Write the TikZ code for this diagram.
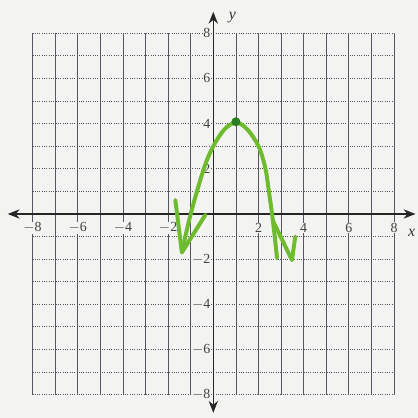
\documentclass[tikz,border=0pt]{standalone}
\usepackage{fontspec}
\setmainfont{Liberation Serif}
\usetikzlibrary{arrows.meta}
\definecolor{penc}{RGB}{110,188,45}
\definecolor{pendark}{RGB}{45,125,35}
\definecolor{paper}{RGB}{243,243,241}
\definecolor{gridc}{RGB}{85,85,98}
\begin{document}
\begin{tikzpicture}[x=0.6cm,y=0.6cm,
  ticklab/.style={fill=paper, inner sep=0.6pt, font=\fontsize{10.5}{12}\selectfont, text=black!75},
  axislab/.style={font=\itshape\fontsize{12}{14}\selectfont, text=black!80},
  penline/.style={draw=penc, line width=3pt, line cap=round, line join=round},
  axisline/.style={draw=black!85, line width=1.1pt, {Stealth[length=9pt,width=7pt]}-{Stealth[length=9pt,width=7pt]}}]
\fill[paper] (-9.44,-9.03) rectangle (9.06,9.47);
\useasboundingbox (-9.44,-9.03) rectangle (9.06,9.47);
% grid
\foreach \i in {-8,...,8}{
  \draw[gridc, line width=0.55pt] (\i,-8) -- (\i,8);
  \draw[gridc, line width=0.75pt, densely dotted] (-8,\i) -- (8,\i);
}
% axes
\coordinate (xl) at (-9.1,0);
\coordinate (xr) at (8.95,0);
\coordinate (yb) at (0,-8.8);
\coordinate (yt) at (0,8.95);
\draw[axisline] (xl) -- (xr);
\draw[axisline] (yb) -- (yt);
% tick labels
\foreach \v/\t in {-8/$-$8,-6/$-$6,-4/$-$4,-2/$-$2,2/2,4/4,6/6,8/8}{
  \node[ticklab] (xt\v) at (\v,-0.62) {\t};
  \node[ticklab, anchor=east] (yt\v) at (-0.08,\v) {\t};
}
\node[axislab] (xlab) at (8.78,-0.85) {x};
\node[axislab] (ylab) at (0.85,8.68) {y};
% hand-drawn curve
\draw[penline] plot[smooth, tension=0.55] coordinates {
  (-1.39,-1.7) (-1.0,0) (-0.42,2) (0,3) (0.5,3.75) (1,4.05) (1.5,3.75) (2,3) (2.3,2.05) (2.46,1) (2.6,0) (2.72,-1) (2.82,-1.95)};
\draw[penline] (-1.68,0.62) -- (-1.39,-1.7) -- (-0.35,-0.04);
\draw[penline] (2.64,-0.3) -- (3.48,-2.04) -- (3.63,-1.0);
\fill[pendark] (1,4.08) circle (0.2);
\end{tikzpicture}
\end{document}
